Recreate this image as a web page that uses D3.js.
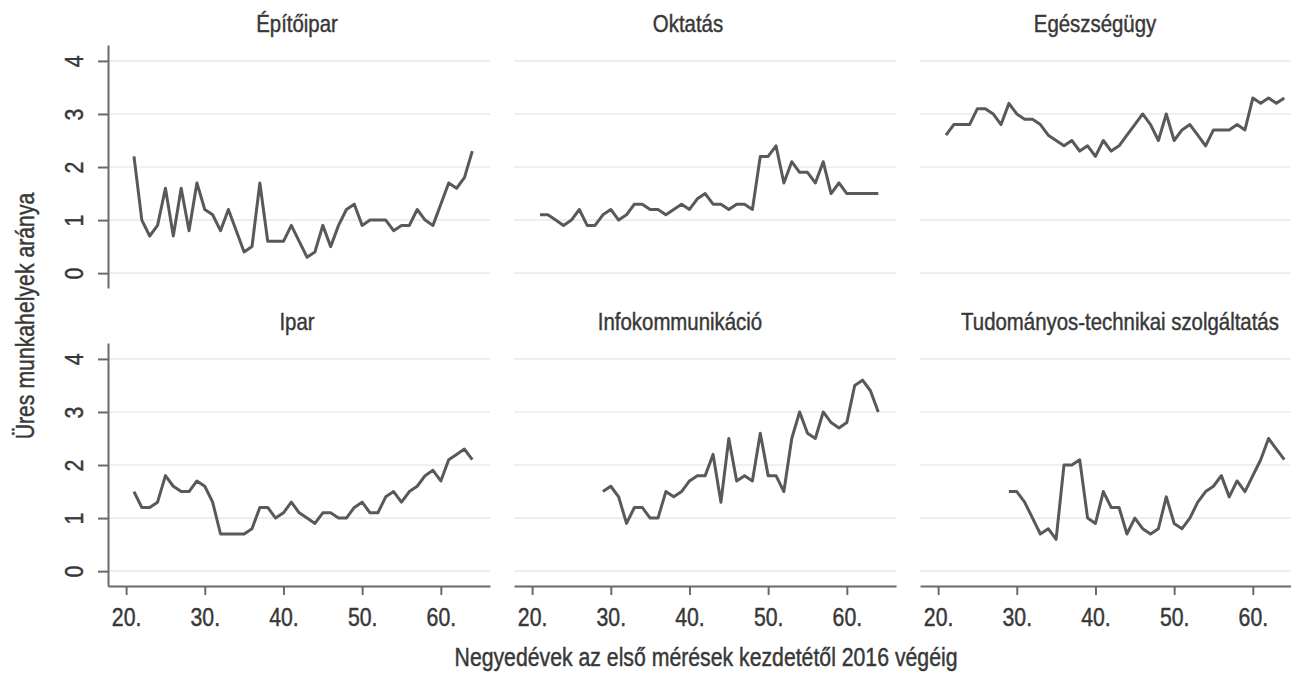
<!DOCTYPE html>
<html>
<head>
<meta charset="utf-8">
<script src="https://cdn.jsdelivr.net/npm/d3@7/dist/d3.min.js"></script>
<style>
  html, body { margin: 0; padding: 0; background: #fff; overflow: hidden; }
  svg { display: block; }
  text { font-family: "Liberation Sans", Arial, sans-serif; fill: #383838; stroke: #383838; stroke-width: 0.45px; }
</style>
</head>
<body>
<svg id="chart" width="1291" height="673"></svg>
<script>
// ---- data ----
const panelTitles = ["Építőipar", "Oktatás", "Egészségügy", "Ipar", "Infokommunikáció", "Tudományos-technikai szolgáltatás"];
const startQuarter = [21, 21, 21, 21, 29, 29];
const epitoipar = [2.2, 1.0, 0.7, 0.9, 1.6, 0.7, 1.6, 0.8, 1.7, 1.2, 1.1, 0.8, 1.2, 0.8, 0.4, 0.5, 1.7, 0.6, 0.6, 0.6, 0.9, 0.6, 0.3, 0.4, 0.9, 0.5, 0.9, 1.2, 1.3, 0.9, 1.0, 1.0, 1.0, 0.8, 0.9, 0.9, 1.2, 1.0, 0.9, 1.3, 1.7, 1.6, 1.8, 2.3];
const oktatas = [1.1, 1.1, 1.0, 0.9, 1.0, 1.2, 0.9, 0.9, 1.1, 1.2, 1.0, 1.1, 1.3, 1.3, 1.2, 1.2, 1.1, 1.2, 1.3, 1.2, 1.4, 1.5, 1.3, 1.3, 1.2, 1.3, 1.3, 1.2, 2.2, 2.2, 2.4, 1.7, 2.1, 1.9, 1.9, 1.7, 2.1, 1.5, 1.7, 1.5, 1.5, 1.5, 1.5, 1.5];
const egeszsegugy = [2.6, 2.8, 2.8, 2.8, 3.1, 3.1, 3.0, 2.8, 3.2, 3.0, 2.9, 2.9, 2.8, 2.6, 2.5, 2.4, 2.5, 2.3, 2.4, 2.2, 2.5, 2.3, 2.4, 2.6, 2.8, 3.0, 2.8, 2.5, 3.0, 2.5, 2.7, 2.8, 2.6, 2.4, 2.7, 2.7, 2.7, 2.8, 2.7, 3.3, 3.2, 3.3, 3.2, 3.3];
const ipar = [1.5, 1.2, 1.2, 1.3, 1.8, 1.6, 1.5, 1.5, 1.7, 1.6, 1.3, 0.7, 0.7, 0.7, 0.7, 0.8, 1.2, 1.2, 1.0, 1.1, 1.3, 1.1, 1.0, 0.9, 1.1, 1.1, 1.0, 1.0, 1.2, 1.3, 1.1, 1.1, 1.4, 1.5, 1.3, 1.5, 1.6, 1.8, 1.9, 1.7, 2.1, 2.2, 2.3, 2.1];
const infokommunikacio = [1.5, 1.6, 1.4, 0.9, 1.2, 1.2, 1.0, 1.0, 1.5, 1.4, 1.5, 1.7, 1.8, 1.8, 2.2, 1.3, 2.5, 1.7, 1.8, 1.7, 2.6, 1.8, 1.8, 1.5, 2.5, 3.0, 2.6, 2.5, 3.0, 2.8, 2.7, 2.8, 3.5, 3.6, 3.4, 3.0];
const tudomanyos = [1.5, 1.5, 1.3, 1.0, 0.7, 0.8, 0.6, 2.0, 2.0, 2.1, 1.0, 0.9, 1.5, 1.2, 1.2, 0.7, 1.0, 0.8, 0.7, 0.8, 1.4, 0.9, 0.8, 1.0, 1.3, 1.5, 1.6, 1.8, 1.4, 1.7, 1.5, 1.8, 2.1, 2.5, 2.3, 2.1];
const seriesList = [epitoipar, oktatas, egeszsegugy, ipar, infokommunikacio, tudomanyos];
const xTicks = [20, 30, 40, 50, 60];
const yTicks = [0, 1, 2, 3, 4];
const yTitle = "Üres munkahelyek aránya";
const xTitle = "Negyedévek az első mérések kezdetétől 2016 végéig";

// ---- layout ----
const svg = d3.select("#chart");
const colLeft = [108, 514, 920];
const rowTop = [45, 343];
const pw = 382, ph = 243;
const xDomain = [17.7, 66.25];
const yDomain = [-0.28, 4.3];
const titleShift = [-2, -17, -16, -2, -25, 9];
const axisColor = "#6a6a6a";
const gridColor = "#eaeded";
const lineColor = "#595959";
const sx = 0.85; // horizontal condensing of the text

seriesList.forEach((vals, i) => {
  const col = i % 3, row = Math.floor(i / 3);
  const g = svg.append("g").attr("transform", `translate(${colLeft[col]},${rowTop[row]})`);
  const x = d3.scaleLinear().domain(xDomain).range([0, pw]);
  const y = d3.scaleLinear().domain(yDomain).range([ph, 0]);

  // gridlines
  g.append("g").selectAll("line").data(yTicks).join("line")
    .attr("x1", 0).attr("x2", pw)
    .attr("y1", d => y(d)).attr("y2", d => y(d))
    .attr("stroke", gridColor).attr("stroke-width", 1.6);

  // y axis (first column only)
  if (col === 0) {
    const ya = g.append("g").call(d3.axisLeft(y).tickValues(yTicks).tickSize(10).tickSizeOuter(0).tickFormat(d3.format("d")));
    ya.select(".domain").attr("stroke", axisColor).attr("stroke-width", 2);
    ya.selectAll(".tick line").attr("stroke", axisColor).attr("stroke-width", 2);
    ya.selectAll(".tick text")
      .attr("x", null).attr("dy", null)
      .attr("transform", `translate(-25,0) rotate(-90) scale(${sx},1)`)
      .attr("text-anchor", "middle")
      .style("font-size", "25px").style("fill", "#383838");
  }
  // x axis (bottom row only)
  if (row === 1) {
    const xa = g.append("g").attr("transform", `translate(0,${ph})`)
      .call(d3.axisBottom(x).tickValues(xTicks).tickSize(9).tickSizeOuter(0).tickFormat(d => d + "."));
    xa.select(".domain").attr("stroke", axisColor).attr("stroke-width", 2);
    xa.selectAll(".tick line").attr("stroke", axisColor).attr("stroke-width", 2);
    xa.selectAll(".tick text").attr("y", null).attr("dy", null)
      .attr("transform", `translate(0,40) scale(${sx},1)`)
      .style("font-size", "25px").style("fill", "#383838");
  }

  // data line
  const pts = vals.map((v, k) => ({ q: startQuarter[i] + k, v }));
  g.append("path").datum(pts)
    .attr("fill", "none").attr("stroke", lineColor).attr("stroke-width", 3)
    .attr("stroke-linejoin", "round")
    .attr("d", d3.line().x(d => x(d.q)).y(d => y(d.v)));

  // panel title
  g.append("text")
    .attr("transform", `translate(${pw / 2 + titleShift[i]},-13) scale(${sx},1)`)
    .attr("text-anchor", "middle").style("font-size", "24px")
    .text(panelTitles[i]);
});

// axis titles
svg.append("text")
  .attr("transform", `translate(34,316) rotate(-90) scale(${sx},1)`)
  .attr("text-anchor", "middle").style("font-size", "25px")
  .text(yTitle);
svg.append("text")
  .attr("transform", `translate(706,666) scale(${sx},1)`)
  .attr("text-anchor", "middle").style("font-size", "25px")
  .text(xTitle);
</script>
</body>
</html>
